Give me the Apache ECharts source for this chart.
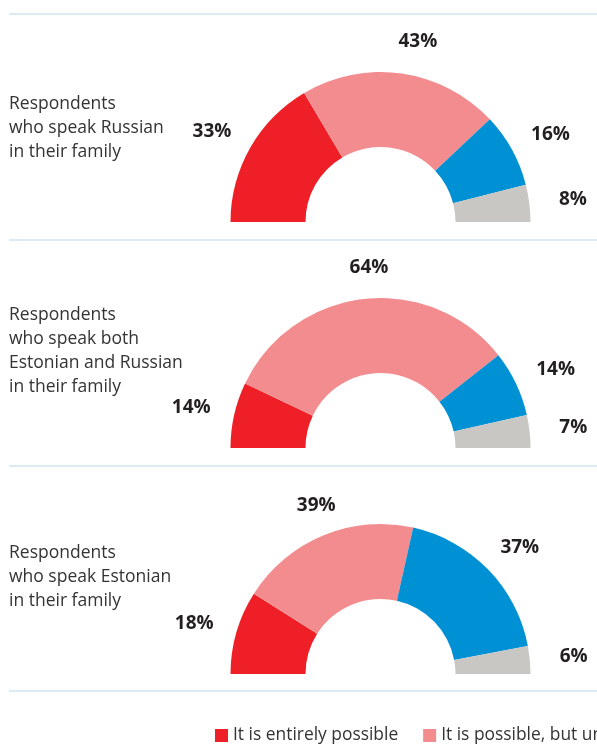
<!DOCTYPE html>
<html>
<head>
<meta charset="utf-8">
<script src="https://cdn.jsdelivr.net/npm/echarts@6/dist/echarts.min.js"></script>
<style>
  html, body { margin: 0; padding: 0; background: #fff; }
  #chart { width: 597px; height: 744px; }
</style>
</head>
<body>
<div id="chart"></div>
<script>
// Answer categories (legend order)
const categories = [
  'It is entirely possible',
  'It is possible, but unlikely',
  'It is not possible',
  'Hard to say'
];
// Respondent groups, one half-donut each
const groups = [
  'Respondents\nwho speak Russian\nin their family',
  'Respondents\nwho speak both\nEstonian and Russian\nin their family',
  'Respondents\nwho speak Estonian\nin their family'
];
// Shares (%) per group, in category order
const russianFamily = [33, 43, 16, 8];
const bothFamily = [14, 64, 14, 7];
const estonianFamily = [18, 39, 37, 6];
const groupValues = [russianFamily, bothFamily, estonianFamily];

const colors = ['#EE1F26', '#F38C8F', '#0090D4', '#C9C7C3'];
const FONT = '"Open Sans", "Noto Sans", sans-serif';

const chart = echarts.init(document.getElementById('chart'), null, { renderer: 'canvas' });

const cx = 380.5;
const rowCenterY = [222, 448, 674];
const textCenterY = [128, 351, 577];
const dividerY = [14, 240, 466, 691];

// Label ring: labels start on the mid-radius of a transparent ring and are
// moved onto a slightly flattened ellipse around the donut.
const LABEL_MID_R = 170;
const LABEL_RX = 191;
const LABEL_RY = 182.5;

const toData = vals => vals.map((v, i) => ({ name: categories[i], value: v }));

const series = [];
// Visible rings
groupValues.forEach((vals, g) => {
  series.push({
    type: 'pie',
    name: 'ring' + g,
    center: [cx, rowCenterY[g]],
    radius: [75, 150],
    startAngle: 180,
    endAngle: 0,
    clockwise: true,
    silent: true,
    label: { show: false },
    labelLine: { show: false },
    itemStyle: { borderWidth: 0 },
    data: toData(vals)
  });
});
// Value labels
groupValues.forEach((vals, g) => {
  const cy = rowCenterY[g];
  series.push({
    type: 'pie',
    name: 'labels' + g,
    center: [cx, cy],
    radius: [LABEL_MID_R - 10, LABEL_MID_R + 10],
    startAngle: 180,
    endAngle: 0,
    clockwise: true,
    silent: true,
    itemStyle: { color: 'transparent', borderWidth: 0 },
    label: {
      show: true,
      position: 'inside',
      formatter: '{c}%',
      color: '#231F20',
      fontFamily: FONT,
      fontWeight: 'bold',
      fontSize: 19
    },
    labelLine: { show: false },
    labelLayout: function (p) {
      const r = p.labelRect;
      const mx = r.x + r.width / 2 - cx;
      const my = r.y + r.height / 2 - cy;
      const len = Math.sqrt(mx * mx + my * my) || 1;
      const ux = mx / len, uy = my / len;
      // labels sitting above the top of the arc lean a little to the right
      const lean = 10 * Math.min(1, Math.max(0, (Math.abs(uy) - 0.75) / 0.15));
      return {
        dx: (LABEL_RX - LABEL_MID_R) * ux + lean,
        dy: (LABEL_RY - LABEL_MID_R) * uy + 3.5 * Math.abs(uy)
      };
    },
    data: toData(vals)
  });
});

const graphics = [];
dividerY.forEach(y => {
  graphics.push({
    type: 'rect',
    shape: { x: 9, y: y - 1, width: 600, height: 2 },
    style: { fill: '#DCEAF4' },
    silent: true
  });
});
groups.forEach((txt, g) => {
  graphics.push({
    type: 'text',
    x: 9,
    y: textCenterY[g],
    style: {
      text: txt,
      fill: '#333333',
      font: '17.5px ' + FONT,
      lineHeight: 24,
      verticalAlign: 'middle',
      align: 'left'
    },
    silent: true
  });
});

chart.setOption({
  animation: false,
  color: colors,
  legend: {
    data: categories,
    left: 210,
    top: 722,
    width: 1400,
    icon: 'rect',
    itemWidth: 13,
    itemHeight: 13,
    itemGap: 25,
    textStyle: { fontSize: 17.4, color: '#333333', fontFamily: FONT },
    selectedMode: false
  },
  series: series,
  graphic: graphics
});
</script>
</body>
</html>
